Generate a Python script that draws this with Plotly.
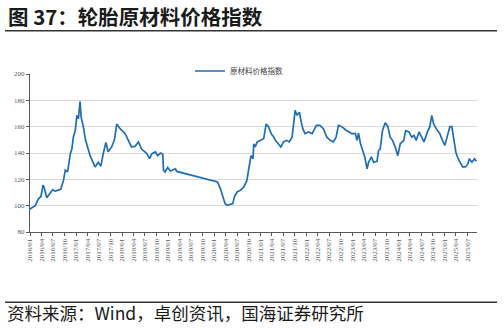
import plotly.graph_objects as go

# ---- data ----
dates = [
    "2016-01-01", "2016-02-11", "2016-03-07", "2016-03-28", "2016-04-13", "2016-04-22",
    "2016-05-13", "2016-06-01", "2016-06-28", "2016-07-19", "2016-08-13", "2016-09-01",
    "2016-09-22", "2016-10-07", "2016-10-25", "2016-11-16", "2016-11-28", "2016-12-10",
    "2016-12-25", "2017-01-07", "2017-01-19", "2017-02-01", "2017-02-10", "2017-02-27",
    "2017-03-16", "2017-04-07", "2017-04-22", "2017-05-10", "2017-06-01", "2017-06-25",
    "2017-07-16", "2017-08-04", "2017-08-25", "2017-09-12", "2017-10-10", "2017-11-01",
    "2017-11-19", "2017-12-16", "2018-01-25", "2018-02-19", "2018-03-16", "2018-04-13",
    "2018-05-10", "2018-06-04", "2018-07-16", "2018-08-07", "2018-08-25", "2018-09-22",
    "2018-10-10", "2018-11-01", "2018-11-19", "2018-11-25", "2018-12-07", "2018-12-28",
    "2019-01-19", "2019-02-10", "2019-02-28", "2019-03-10", "2020-01-28", "2020-02-19",
    "2020-03-10", "2020-03-28", "2020-04-13", "2020-05-07", "2020-05-28", "2020-06-10",
    "2020-07-01", "2020-07-25", "2020-08-22", "2020-09-16", "2020-10-07", "2020-10-19",
    "2020-11-04", "2020-11-10", "2020-11-22", "2020-12-07", "2021-01-04", "2021-01-28",
    "2021-02-16", "2021-03-07", "2021-03-28", "2021-04-19", "2021-05-01", "2021-05-25",
    "2021-06-13", "2021-07-04", "2021-07-28", "2021-08-19", "2021-09-10", "2021-09-22",
    "2021-10-04", "2021-10-19", "2021-11-07", "2021-11-19", "2021-12-04", "2021-12-22",
    "2022-01-19", "2022-02-16", "2022-03-10", "2022-03-22", "2022-04-19", "2022-05-16",
    "2022-06-13", "2022-07-10", "2022-08-04", "2022-08-25", "2022-09-13", "2022-10-10",
    "2022-11-07", "2022-12-01", "2022-12-28", "2023-01-25", "2023-02-07", "2023-02-19",
    "2023-03-07", "2023-03-28", "2023-04-10", "2023-04-28", "2023-05-10", "2023-06-01",
    "2023-06-19", "2023-07-16", "2023-07-28", "2023-08-10", "2023-08-28", "2023-09-19",
    "2023-10-10", "2023-10-28", "2023-11-16", "2023-12-07", "2023-12-28", "2024-01-16",
    "2024-02-13", "2024-02-28", "2024-03-25", "2024-04-16", "2024-05-04", "2024-05-22",
    "2024-06-13", "2024-07-04", "2024-07-22", "2024-08-19", "2024-09-07", "2024-09-22",
    "2024-10-07", "2024-10-28", "2024-11-25", "2024-12-16", "2025-01-04", "2025-01-25",
    "2025-02-13", "2025-02-28", "2025-03-16", "2025-04-01", "2025-04-19", "2025-05-07",
    "2025-05-25", "2025-06-16", "2025-07-07", "2025-07-16", "2025-08-07", "2025-08-28",
    "2025-09-10",
]
index_values = [
    97.5, 100, 105, 107, 115.5, 114,
    106, 108.6, 112, 111, 111.6, 112.4,
    119, 127, 125.6, 139.5, 143, 152,
    157, 168.6, 166, 179, 167, 160,
    150, 142, 138, 134, 129.4, 133,
    130, 139.5, 148, 141, 144.6, 150,
    162, 158.5, 154.7, 149.6, 144.6, 145,
    148.4, 143, 139.5, 135.7, 139.5, 140.8,
    138, 140, 139, 127, 125.6, 129,
    126.3, 127.3, 128, 126, 118, 113,
    106.6, 101.5, 100.3, 101, 101.5, 107,
    110.4, 111.6, 114, 119, 129.4, 138,
    135.7, 147, 144.6, 148.4, 149.6, 151,
    162, 160, 154.7, 152, 149.6, 147,
    144.6, 148.4, 149.6, 148.4, 152, 162,
    172.4, 168.6, 171, 164.8, 158.5, 154.7,
    156, 154.7, 158.5, 161, 161, 158.5,
    152, 149.6, 148.4, 152, 161, 160,
    157.7, 156, 154.7, 154.7, 149.6, 155,
    147, 140.8, 137, 128, 133, 137,
    133, 133.7, 142, 143, 157, 163,
    160, 152, 149.6, 144.6, 138, 147,
    149.6, 157, 156, 152, 153.4, 149.6,
    156, 152, 148.4, 156, 160, 168.6,
    162, 158.5, 154.7, 149.6, 145.8, 153.4,
    160, 160, 149.6, 140.8, 135.7, 131.9,
    129.4, 129.4, 131.9, 135.7, 133, 135.7,
    133.7,
]
series_name = "原材料价格指数"

tick_dates = [f"{y}-{m:02d}-01" for y in range(2016, 2026) for m in (1, 4, 7, 10)
              if not (y == 2025 and m == 10)]
tick_labels = [d[:7].replace("-", "/") for d in tick_dates]

title_text = "图 37：轮胎原材料价格指数"
source_text = "资料来源：Wind，卓创资讯，国海证券研究所"

# ---- figure ----
L, R, T, B = 30, 27, 74, 99
W, H = 504, 331
PH = H - T - B
PW = W - L - R


def px_x(X):
    return (X - L) / PW


def px_y(Y):
    return (H - B - Y) / PH


fig = go.Figure()
fig.add_trace(go.Scatter(
    x=dates, y=index_values, mode="lines", name=series_name,
    line=dict(color="#1f6db3", width=1.7),
))

axis_font = dict(family="Liberation Serif", size=7, color="#595959")

fig.update_layout(
    width=W, height=H,
    margin=dict(l=L, r=R, t=T, b=B, pad=0),
    paper_bgcolor="white", plot_bgcolor="white",
    showlegend=True,
    legend=dict(
        orientation="h", x=px_x(190), y=px_y(71), xanchor="left", yanchor="middle",
        font=dict(family="Noto Sans CJK SC", size=7.5, color="#404040"),
        bgcolor="rgba(0,0,0,0)", itemwidth=30,
    ),
    xaxis=dict(
        type="date", range=["2016-01-01", "2025-09-16"],
        tickmode="array", tickvals=tick_dates, ticktext=tick_labels,
        tickangle=-90, tickfont=axis_font,
        ticks="outside", ticklen=3, tickcolor="#595959", tickwidth=1,
        showline=True, linecolor="#595959", linewidth=1,
        showgrid=False, zeroline=False,
    ),
    yaxis=dict(
        range=[80, 200], tickmode="linear", tick0=80, dtick=20,
        tickfont=axis_font,
        ticks="outside", ticklen=3, tickcolor="#595959", tickwidth=1,
        showline=True, linecolor="#595959", linewidth=1,
        showgrid=True, gridcolor="#d9d9d9", gridwidth=1,
        zeroline=False,
    ),
)

fig.add_annotation(
    text=f"<b>{title_text}</b>", xref="paper", yref="paper",
    x=px_x(6), y=px_y(16), xanchor="left", yanchor="middle", showarrow=False,
    font=dict(family="Noto Sans CJK SC", size=20.5, color="#1a1a1a"),
)
fig.add_annotation(
    text=source_text, xref="paper", yref="paper",
    x=px_x(5), y=px_y(312), xanchor="left", yanchor="middle", showarrow=False,
    font=dict(family="Noto Sans CJK SC", size=17.5, color="#1a1a1a"),
)
fig.add_shape(type="line", xref="paper", yref="paper",
              x0=px_x(5), x1=px_x(497), y0=px_y(30.7), y1=px_y(30.7),
              line=dict(color="#333333", width=1.5))
fig.add_shape(type="line", xref="paper", yref="paper",
              x0=px_x(5), x1=px_x(497), y0=px_y(302.3), y1=px_y(302.3),
              line=dict(color="#333333", width=1.5))

fig.write_html("out.html")
